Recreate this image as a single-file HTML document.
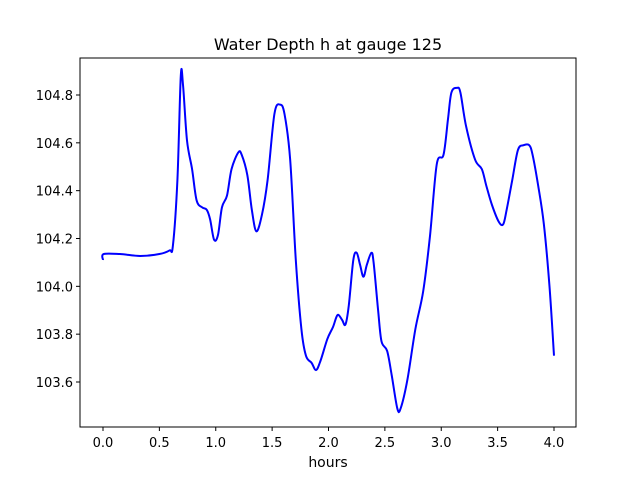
<!DOCTYPE html>
<html><head><meta charset="utf-8"><style>
body{margin:0;background:#fff;}
svg text{font-family:"DejaVu Sans","Liberation Sans",sans-serif;fill:#000;}
</style></head><body>
<svg id="chart" width="640" height="480" xmlns="http://www.w3.org/2000/svg">
<rect x="0" y="0" width="640" height="480" fill="#fff"/>
<text x="328" y="50" font-size="16" text-anchor="middle">Water Depth h at gauge 125</text>
<g id="xticks"></g><g id="yticks"></g>
<path id="series" fill="none" stroke="#0000ff" stroke-width="2" stroke-linejoin="round"/>
<rect x="80" y="58" width="496" height="369" fill="none" stroke="#000" stroke-width="1"/>
<text x="328" y="467" font-size="14" text-anchor="middle">hours</text>
</svg>
<script>
const hours=[0,0.005,0.15,0.33,0.5,0.59,0.62,0.66,0.69,0.71,0.745,0.79,0.83,0.88,0.92,0.95,0.985,1.02,1.055,1.1,1.14,1.2,1.23,1.28,1.32,1.36,1.41,1.46,1.52,1.57,1.61,1.66,1.71,1.76,1.8,1.85,1.89,1.93,1.99,2.04,2.08,2.12,2.15,2.18,2.22,2.25,2.28,2.31,2.34,2.38,2.4,2.44,2.47,2.52,2.56,2.61,2.64,2.7,2.77,2.84,2.9,2.96,3.02,3.06,3.09,3.14,3.17,3.22,3.3,3.36,3.4,3.45,3.51,3.55,3.58,3.63,3.68,3.73,3.78,3.81,3.86,3.91,3.96,4.0];
const depth=[104.11,104.135,104.135,104.127,104.135,104.15,104.17,104.445,104.88,104.84,104.61,104.49,104.36,104.33,104.32,104.28,104.195,104.215,104.33,104.38,104.49,104.56,104.55,104.465,104.32,104.23,104.3,104.445,104.72,104.76,104.72,104.53,104.11,103.82,103.71,103.68,103.65,103.69,103.78,103.83,103.88,103.86,103.84,103.92,104.11,104.14,104.09,104.04,104.09,104.14,104.1,103.9,103.77,103.73,103.63,103.49,103.49,103.61,103.82,103.98,104.21,104.51,104.55,104.7,104.81,104.83,104.81,104.67,104.53,104.49,104.42,104.34,104.27,104.26,104.32,104.445,104.57,104.59,104.59,104.55,104.42,104.26,104.0,103.71];
const xTickLabels=["0.0","0.5","1.0","1.5","2.0","2.5","3.0","3.5","4.0"];
const yTickLabels=["103.6","103.8","104.0","104.2","104.4","104.6","104.8"];
const NS="http://www.w3.org/2000/svg";
function xs(v){return 103+v*112.75;}
function ys(v){return 382-(v-103.6)*239.17;}
const xg=document.getElementById('xticks'),yg=document.getElementById('yticks');
xTickLabels.forEach(l=>{const v=parseFloat(l),x=xs(v);
 const t=document.createElementNS(NS,'line');t.setAttribute('x1',x);t.setAttribute('x2',x);t.setAttribute('y1',427);t.setAttribute('y2',431);t.setAttribute('stroke','#000');
 
 
 xg.appendChild(t);
 const s=document.createElementNS(NS,'text');s.setAttribute('x',x);s.setAttribute('y',447);s.setAttribute('font-size','13');s.setAttribute('text-anchor','middle');s.textContent=l;
 
 
 xg.appendChild(s);});
yTickLabels.forEach(l=>{const v=parseFloat(l),y=ys(v);
 const t=document.createElementNS(NS,'line');t.setAttribute('x1',76);t.setAttribute('x2',80);t.setAttribute('y1',y);t.setAttribute('y2',y);t.setAttribute('stroke','#000');
 
 
 yg.appendChild(t);
 const s=document.createElementNS(NS,'text');s.setAttribute('x',73);s.setAttribute('y',y+5);s.setAttribute('font-size','13');s.setAttribute('text-anchor','end');s.textContent=l;
 
 
 yg.appendChild(s);});
const P=hours.map((h,i)=>[xs(h),ys(depth[i])]);
let d='M'+P[0][0]+','+P[0][1];
for(let i=0;i<P.length-1;i++){const p0=P[Math.max(0,i-1)],p1=P[i],p2=P[i+1],p3=P[Math.min(P.length-1,i+2)];
 const c1=[p1[0]+(p2[0]-p0[0])/6,p1[1]+(p2[1]-p0[1])/6],c2=[p2[0]-(p3[0]-p1[0])/6,p2[1]-(p3[1]-p1[1])/6];
 d+=` C${c1[0]},${c1[1]} ${c2[0]},${c2[1]} ${p2[0]},${p2[1]}`;}
document.getElementById('series').setAttribute('d',d);
</script>
</body></html>
